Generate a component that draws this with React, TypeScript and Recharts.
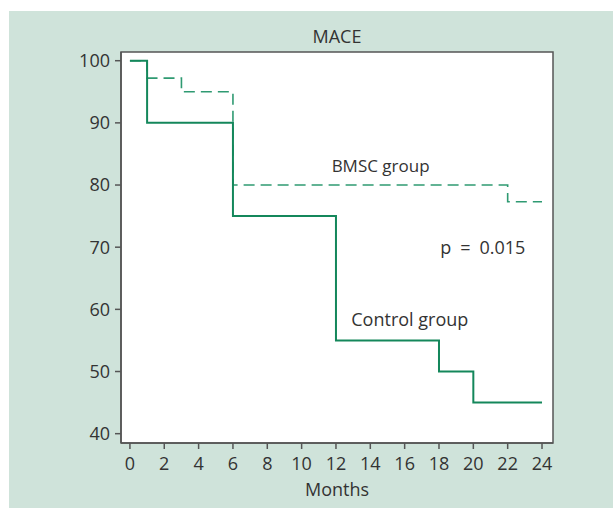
import React from "react";
import {
  LineChart, Line, XAxis, YAxis, ReferenceArea, ReferenceDot,
} from "recharts";

// Kaplan-Meier steps (month, % event-free)
const controlMonths = [0, 1, 6, 12, 18, 20, 24];
const controlValues = [100, 90, 75, 55, 50, 45, 45];
const bmscMonths = [0, 1, 3, 6, 22, 24];
const bmscValues = [100, 97.2, 95, 80, 77.3, 77.3];

const xTicks = [0, 2, 4, 6, 8, 10, 12, 14, 16, 18, 20, 22, 24];
const yTicks = [40, 50, 60, 70, 80, 90, 100];
const xDomain: [number, number] = [-0.52, 24.64];
const yDomain: [number, number] = [38.5, 101.4];

// text annotations placed in data space
const notes = [
  { x: 14.6, y: 83.1, text: "BMSC group", size: 17 },
  { x: 20.55, y: 69.9, text: "p\u2002=\u20020.015", size: 18 },
  { x: 16.3, y: 58.4, text: "Control group", size: 18 },
];

const controlData = controlMonths.map((m, i) => ({ month: m, pct: controlValues[i] }));
const bmscData = bmscMonths.map((m, i) => ({ month: m, pct: bmscValues[i] }));

const FONT = "'Open Sans', sans-serif";
const TEXT = "#333";
const AXIS = "#555";

export default function App() {
  return (
    <div style={{ position: "absolute", left: 9, top: 11, width: 604, height: 497, background: "#cfe3da", fontFamily: FONT }}>
      <div style={{ position: "absolute", left: 0, width: 656, top: 14, textAlign: "center", fontSize: 18, color: TEXT, lineHeight: "22px" }}>
        MACE
      </div>
      <LineChart
        width={604}
        height={497}
        margin={{ top: 41, right: 60, left: 62, bottom: 5 }}
        style={{ fontFamily: FONT }}
      >
        <ReferenceArea
          x1={xDomain[0]} x2={xDomain[1]} y1={yDomain[0]} y2={yDomain[1]}
          fill="#fff" fillOpacity={1} stroke={AXIS} strokeWidth={1.5}
        />
        <XAxis
          dataKey="month" type="number" domain={xDomain} ticks={xTicks} allowDataOverflow
          height={60} tickSize={6} tickMargin={8}
          tick={{ fontSize: 18, fill: TEXT }}
          stroke={AXIS} strokeWidth={1.5}
          label={{ value: "Months", position: "insideBottom", offset: 7, fontSize: 18, fill: TEXT }}
        />
        <YAxis
          type="number" domain={yDomain} ticks={yTicks} allowDataOverflow
          width={50} tickSize={6} tickMargin={5}
          tick={{ fontSize: 18, fill: TEXT }}
          stroke={AXIS} strokeWidth={1.5}
        />
        <Line
          data={bmscData} dataKey="pct" type="stepAfter"
          stroke="#2f9a72" strokeWidth={1.6} strokeDasharray="11 6"
          dot={false} activeDot={false} isAnimationActive={false}
        />
        <Line
          data={controlData} dataKey="pct" type="stepAfter"
          stroke="#14875b" strokeWidth={2}
          dot={false} activeDot={false} isAnimationActive={false}
        />
        {notes.map((n) => (
          <ReferenceDot
            key={n.text} x={n.x} y={n.y} r={0} fill="none" stroke="none"
            label={{ value: n.text, position: "center", fontSize: n.size, fill: TEXT }}
          />
        ))}
      </LineChart>
    </div>
  );
}
